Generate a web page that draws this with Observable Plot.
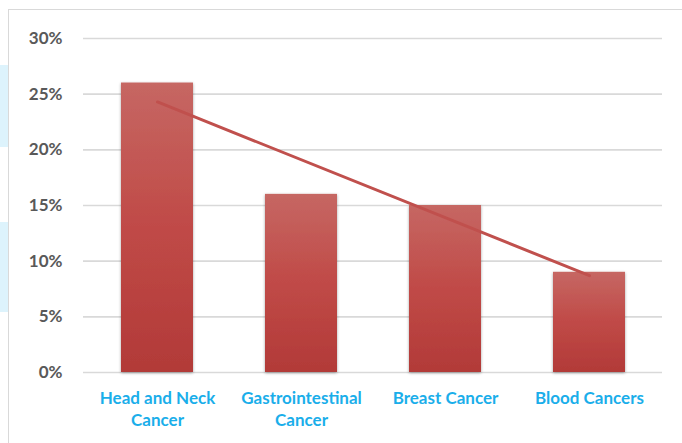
<!DOCTYPE html>
<html>
<head>
<meta charset="utf-8">
<script src="https://cdn.jsdelivr.net/npm/d3@7"></script>
<script src="https://cdn.jsdelivr.net/npm/@observablehq/plot@0.6"></script>
<style>
  html, body { margin: 0; padding: 0; background: #fff; }
  #wrap { position: relative; width: 682px; height: 443px; overflow: hidden; background: #fff; }
  .strip { position: absolute; left: 0; width: 8px; background: #ddf3fc; }
  #frame { position: absolute; left: 8px; top: 9px; width: 700px; height: 460px; border-left: 1.5px solid #d9d9d9; border-top: 1.5px solid #d9d9d9; box-sizing: border-box; }
  #chart { position: absolute; left: 0; top: 0; }
</style>
</head>
<body>
<div id="wrap">
  <div class="strip" style="top:65px;height:82px"></div>
  <div class="strip" style="top:222px;height:90px"></div>
  <div id="frame"></div>
  <div id="chart"></div>
</div>
<script>
const categories = ["Head and Neck Cancer", "Gastrointestinal Cancer", "Breast Cancer", "Blood Cancers"];
const tickLabels = ["Head and Neck\nCancer", "Gastrointestinal\nCancer", "Breast Cancer", "Blood Cancers"];
const values = [26, 16, 15, 9];
const trendCategories = ["Head and Neck Cancer", "Blood Cancers"];
const trendValues = [24.3, 8.7];
const yTicks = [0, 5, 10, 15, 20, 25, 30];

const bars = categories.map((c, i) => ({category: c, value: values[i]}));
const trend = trendCategories.map((c, i) => ({category: c, value: trendValues[i]}));
const labelOf = new Map(categories.map((c, i) => [c, tickLabels[i]]));

const defs = () => {
  const ns = "http://www.w3.org/2000/svg";
  const d = document.createElementNS(ns, "defs");
  d.innerHTML = `
    <linearGradient id="barGrad" x1="0" y1="0" x2="0" y2="1">
      <stop offset="0" stop-color="#c66763"/>
      <stop offset="0.5" stop-color="#c04a47"/>
      <stop offset="1" stop-color="#b23a38"/>
    </linearGradient>
    <filter id="shadow" x="-20%" y="-5%" width="140%" height="112%">
      <feDropShadow dx="0" dy="1" stdDeviation="1.6" flood-color="#000" flood-opacity="0.35"/>
    </filter>`;
  return d;
};

const chart = Plot.plot({
  width: 682,
  height: 443,
  marginLeft: 83,
  marginRight: 20,
  marginTop: 38,
  marginBottom: 71,
  style: {fontFamily: "Lato, 'Open Sans', sans-serif", fontSize: "17px", background: "transparent", overflow: "visible"},
  x: {domain: categories, paddingInner: 0.5, paddingOuter: 0.25, label: null},
  y: {domain: [0, 30], label: null},
  marks: [
    defs,
    Plot.gridY(yTicks, {stroke: "#d9d9d9", strokeOpacity: 1, strokeWidth: 1.6}),
    Plot.barY(bars, {x: "category", y: "value", fill: "url(#barGrad)"}),
    Plot.line(trend, {x: "category", y: "value", stroke: "#c0504d", strokeWidth: 3, strokeLinecap: "round"}),
    Plot.axisY(yTicks, {tickSize: 0, tickPadding: 21, tickFormat: d => d + "%", fill: "#595959", fontWeight: "bold", fontSize: 17}),
    Plot.axisX({tickSize: 0, tickPadding: 16, tickFormat: d => labelOf.get(d), fill: "#1aaeea", fontWeight: "bold", fontSize: 17, lineHeight: 1.3})
  ]
});
chart.querySelectorAll("[aria-label='bar'] rect").forEach(r => r.setAttribute("filter", "url(#shadow)"));
document.getElementById("chart").appendChild(chart);
</script>
</body>
</html>
